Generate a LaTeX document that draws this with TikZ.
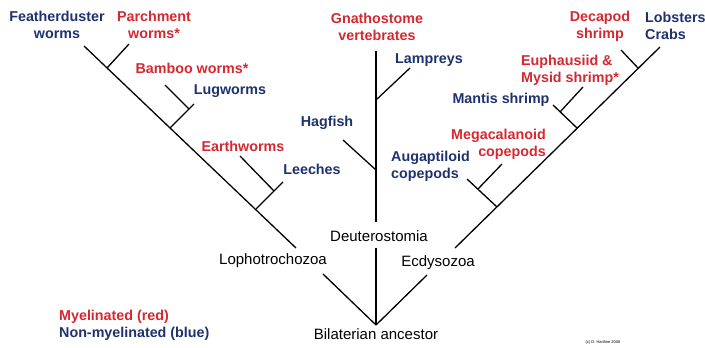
\documentclass[tikz,border=0pt]{standalone}
\usepackage{fontspec}
\setmainfont{Liberation Sans}
\definecolor{myred}{RGB}{214,40,48}
\definecolor{myblue}{RGB}{30,50,112}
\begin{document}
\begin{tikzpicture}[x=1pt,y=-1pt,
  br/.style={line width=1.3pt, black},
  lab/.style={inner sep=0pt, font=\fontsize{14.3}{17}\selectfont\bfseries},
  redlab/.style={lab, text=myred},
  bluelab/.style={lab, text=myblue},
  clade/.style={inner sep=0pt, font=\fontsize{15}{17}\selectfont, text=black}]
\useasboundingbox[fill=white] (0,0) rectangle (705,348);

% ---- coordinates: left (Lophotrochozoa)
\coordinate (root) at (376,325);
\coordinate (ltop) at (84,46);
\coordinate (lgapA) at (323,274);
\coordinate (lgapB) at (296,248);
\coordinate (jparch) at (107,68);
\coordinate (tparch) at (129,44);
\coordinate (jlug) at (170,128);
\coordinate (tlug) at (194,104);
\coordinate (jbam) at (189,109);
\coordinate (tbam) at (165,85);
\coordinate (jearth) at (256,209);
\coordinate (tleech) at (283,182);
\coordinate (jew) at (274,191);
\coordinate (tew) at (240,156);
% ---- middle (Deuterostomia)
\coordinate (mtop) at (376,51);
\coordinate (mgapA) at (376,248);
\coordinate (mgapB) at (376,222);
\coordinate (jlamp) at (376,100);
\coordinate (tlamp) at (410,68);
\coordinate (jhag) at (376,170);
\coordinate (thag) at (343,140);
% ---- right (Ecdysozoa)
\coordinate (rtop) at (660,47);
\coordinate (rgapA) at (427,275);
\coordinate (rgapB) at (455,248);
\coordinate (jcop) at (497,207);
\coordinate (taug) at (467,179);
\coordinate (jmeg) at (478,189);
\coordinate (tmeg) at (502,164);
\coordinate (jmant) at (577,128);
\coordinate (tmant) at (553,105);
\coordinate (jeup) at (560,112);
\coordinate (teup) at (583,87);
\coordinate (jdec) at (638,68);
\coordinate (tdec) at (621,50);

% ---- branches
\draw[br] (root) -- (lgapA);
\draw[br] (lgapB) -- (ltop);
\draw[br] (jparch) -- (tparch);
\draw[br] (jlug) -- (tlug);
\draw[br] (jbam) -- (tbam);
\draw[br] (jearth) -- (tleech);
\draw[br] (jew) -- (tew);

\draw[br] (root) -- (mgapA);
\draw[br] (mgapB) -- (mtop);
\draw[br] (jlamp) -- (tlamp);
\draw[br] (jhag) -- (thag);

\draw[br] (root) -- (rgapA);
\draw[br] (rgapB) -- (rtop);
\draw[br] (jcop) -- (taug);
\draw[br] (jmeg) -- (tmeg);
\draw[br] (jmant) -- (tmant);
\draw[br] (jeup) -- (teup);
\draw[br] (jdec) -- (tdec);

% ---- labels
\node[bluelab, align=center] (feather) at (57,24.5) {Featherduster\\worms};
\node[redlab, align=center] (parch) at (154,25) {Parchment\\worms*};
\node[redlab] (bamboo) at (192,68) {Bamboo worms*};
\node[bluelab] (lug) at (230,91) {Lugworms};
\node[redlab] (earth) at (243,146) {Earthworms};
\node[bluelab] (leech) at (312,169) {Leeches};
\node[clade] (lopho) at (273,261) {Lophotrochozoa};

\node[redlab, align=center] (gnath) at (377,26.5) {Gnathostome\\vertebrates};
\node[bluelab] (lamp) at (429,60) {Lampreys};
\node[bluelab] (hag) at (327,123) {Hagfish};
\node[clade] (deut) at (379,236) {Deuterostomia};

\node[bluelab, align=left, anchor=west] (aug) at (391,166.5) {Augaptiloid\\copepods};
\node[redlab, align=right, anchor=east] (meg) at (546,144) {Megacalanoid\\copepods};
\node[bluelab] (mantis) at (501,100) {Mantis shrimp};
\node[redlab, align=left, anchor=west] (euph) at (521,70.5) {Euphausiid \&\\Mysid shrimp*};
\node[redlab, align=center] (deca) at (600,26) {Decapod\\shrimp};
\node[bluelab, align=left, anchor=west] (lob) at (645,26) {Lobsters\\Crabs};
\node[clade] (ecdy) at (438,263) {Ecdysozoa};

\node[clade] (bilat) at (376,334) {Bilaterian ancestor};

\node[redlab, anchor=west] (legred) at (59,317) {Myelinated (red)};
\node[bluelab, anchor=west] (legblue) at (59,334) {Non-myelinated (blue)};
\node[inner sep=0pt, font=\fontsize{4}{5}\selectfont] (copy) at (603,342) {(c) D. Hartline 2006};
\end{tikzpicture}
\end{document}
